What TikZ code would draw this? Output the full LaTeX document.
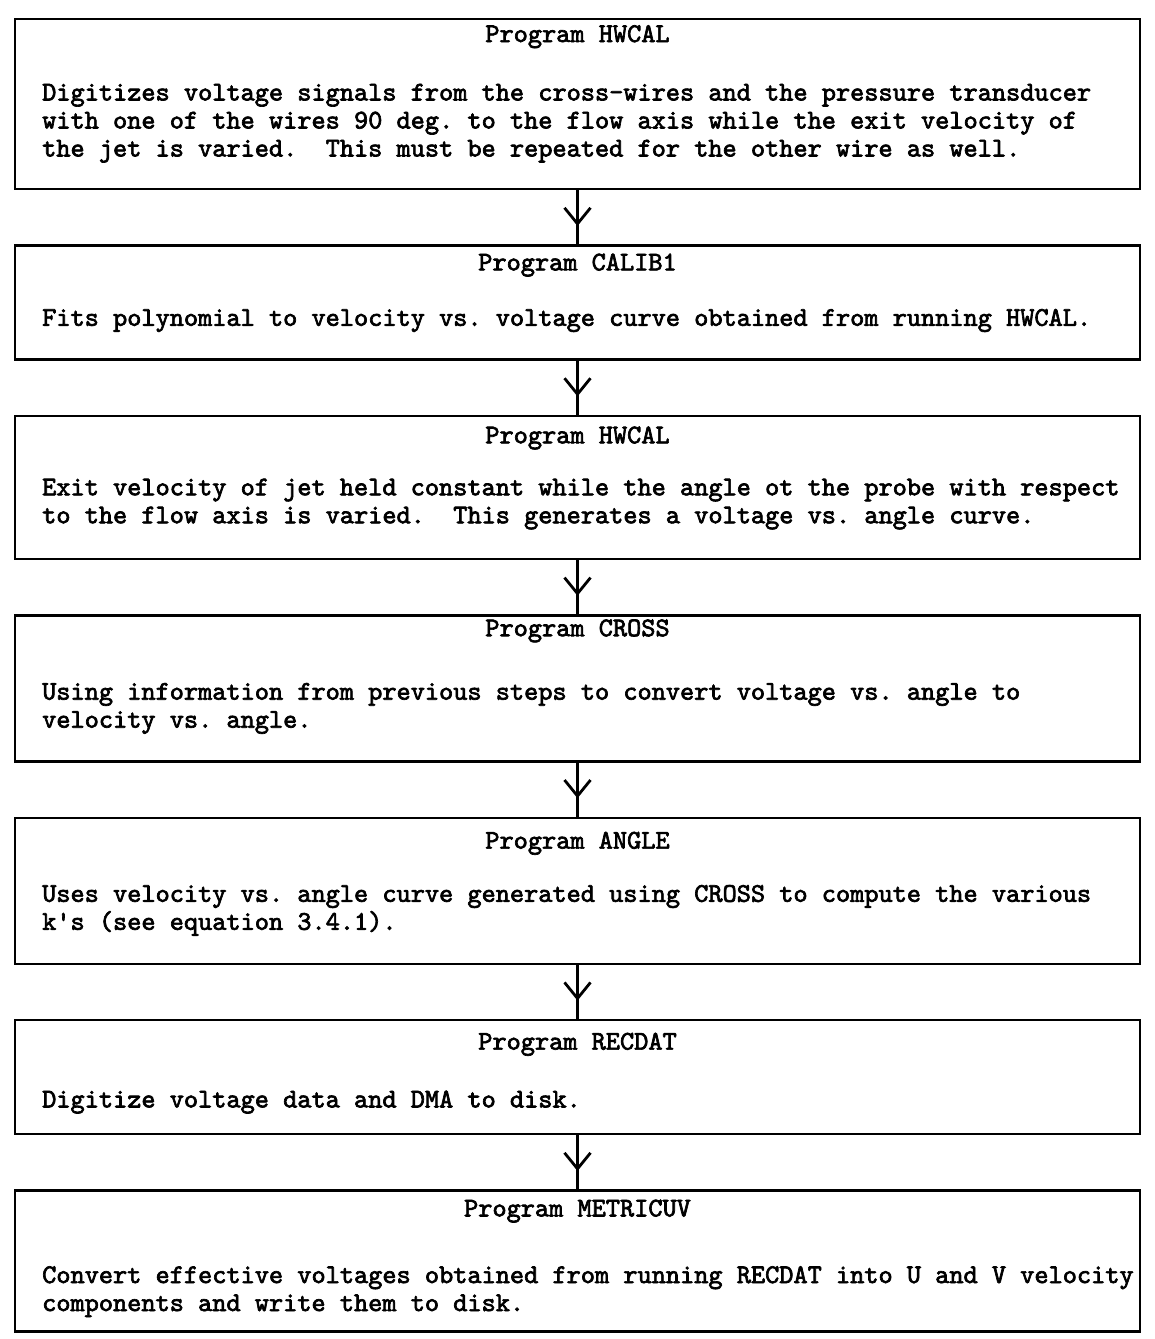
\documentclass[tikz,border=0pt]{standalone}
\usepackage{fontspec}
\setmonofont{lmmono10-regular.otf}[AutoFakeBold=2.5]
\usepackage{tikz}
\usetikzlibrary{arrows.meta, positioning, decorations.markings}

\begin{document}
\frenchspacing
\begin{tikzpicture}[
    font=\ttfamily\bfseries\fontsize{13.5}{14}\selectfont,
    node distance=27pt,
    prog/.style={draw, line width=1.2pt, minimum width=562.5pt, minimum height=#1, inner sep=0pt},
    progname/.style={anchor=base, inner sep=0pt},
    progtext/.style={anchor=north west, align=left, inner sep=0pt, execute at begin node=\strut},
    flow/.style={line width=1.4pt, postaction={decorate},
      decoration={markings, mark=at position 0.66 with {\arrow{Straight Barb[length=8pt, width=13pt]}}}},
  ]
    \useasboundingbox (0,0) rectangle (577.5pt,-669.5pt);

    % program boxes, top to bottom
    \node[prog=85pt, anchor=north] (hwA) at (288.75pt,-9pt) {};
    \node[prog=57pt, below=of hwA] (calib) {};
    \node[prog=71.5pt, below=of calib] (hwB) {};
    \node[prog=73pt, below=of hwB] (cross) {};
    \node[prog=73pt, below=of cross] (angle) {};
    \node[prog=57pt, below=of angle] (recdat) {};
    \node[prog=70.5pt, below=of recdat] (metric) {};

    % program names
    \node[progname] (hwA-name) at ([yshift=-12pt]hwA.north) {Program HWCAL};
    \node[progname] (calib-name) at ([yshift=-13pt]calib.north) {Program CALIB1};
    \node[progname] (hwB-name) at ([yshift=-14.25pt]hwB.north) {Program HWCAL};
    \node[progname] (cross-name) at ([yshift=-11pt]cross.north) {Program CROSS};
    \node[progname] (angle-name) at ([yshift=-16pt]angle.north) {Program ANGLE};
    \node[progname] (recdat-name) at ([yshift=-15.3pt]recdat.north) {Program RECDAT};
    \node[progname] (metric-name) at ([yshift=-13.5pt]metric.north) {Program METRICUV};

    % descriptions
    \node[progtext] (hwA-text) at ([xshift=14pt, yshift=-32.7pt]hwA.north west) {%
      Digitizes voltage signals from the cross-wires and the pressure transducer\\
      with one of the wires 90 deg. to the flow axis while the exit velocity of\\
      the jet is varied.~~This must be repeated for the other wire as well.};
    \node[progtext] (calib-text) at ([xshift=14pt, yshift=-30.7pt]calib.north west) {%
      Fits polynomial to velocity vs. voltage curve obtained from running HWCAL.};
    \node[progtext] (hwB-text) at ([xshift=14pt, yshift=-31.7pt]hwB.north west) {%
      Exit velocity of jet held constant while the angle ot the probe with respect\\
      to the flow axis is varied.~~This generates a voltage vs. angle curve.};
    \node[progtext] (cross-text) at ([xshift=14pt, yshift=-34.2pt]cross.north west) {%
      Using information from previous steps to convert voltage vs. angle to\\
      velocity vs. angle.};
    \node[progtext] (angle-text) at ([xshift=14pt, yshift=-34pt]angle.north west) {%
      Uses velocity vs. angle curve generated using CROSS to compute the various\\
      k's (see equation 3.4.1).};
    \node[progtext] (recdat-text) at ([xshift=14pt, yshift=-34.2pt]recdat.north west) {%
      Digitize voltage data and DMA to disk.};
    \node[progtext] (metric-text) at ([xshift=14pt, yshift=-38.2pt]metric.north west) {%
      Convert effective voltages obtained from running RECDAT into U and V velocity\\
      components and write them to disk.};

    \draw[flow] (hwA) -- (calib);
    \draw[flow] (calib) -- (hwB);
    \draw[flow] (hwB) -- (cross);
    \draw[flow] (cross) -- (angle);
    \draw[flow] (angle) -- (recdat);
    \draw[flow] (recdat) -- (metric);
  \end{tikzpicture}
\end{document}
